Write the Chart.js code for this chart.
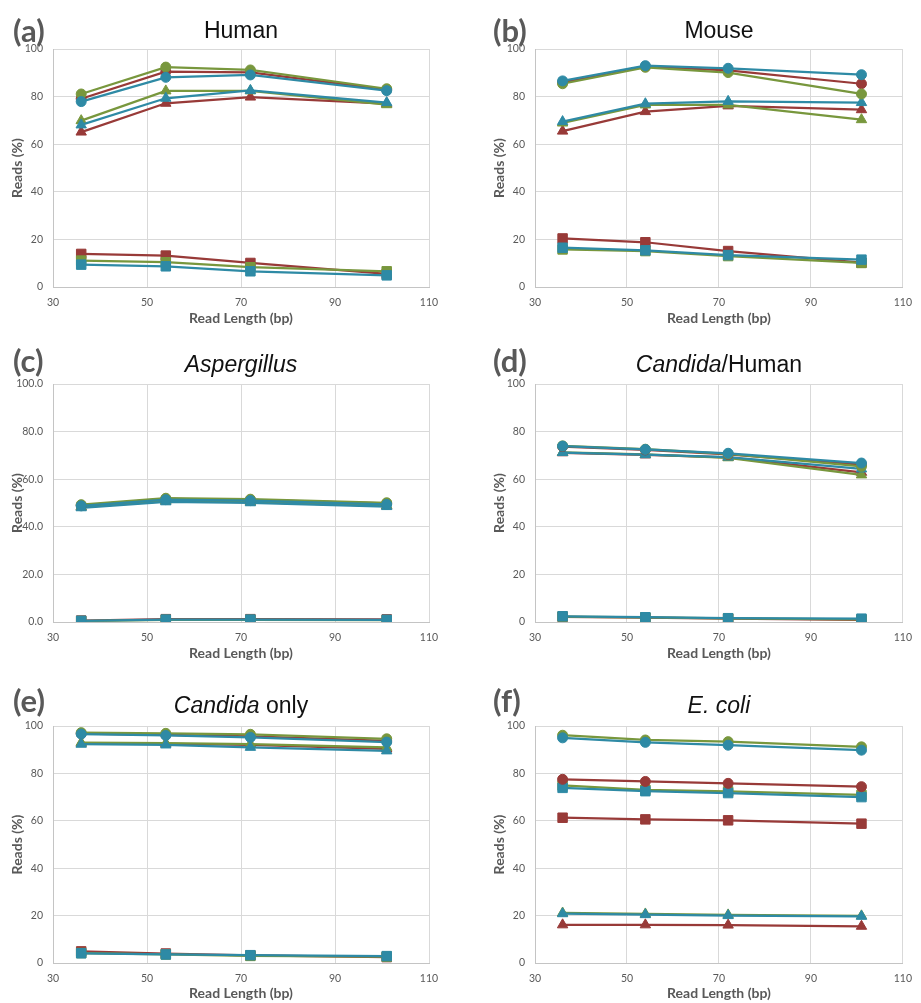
<!DOCTYPE html>
<html>
<head>
<meta charset="utf-8">
<script src="https://cdn.jsdelivr.net/npm/chart.js@4.4.0/dist/chart.umd.min.js"></script>
<style>
  body { margin: 0; background: #fff; }
  #wrap { position: relative; width: 921px; height: 1003px; overflow: hidden; }
  canvas { position: absolute; }
</style>
</head>
<body>
<div id="wrap">
  <canvas id="human" width="460" height="330" style="left:0;top:0"></canvas>
  <canvas id="mouse" width="461" height="330" style="left:460px;top:0"></canvas>
  <canvas id="asp" width="460" height="335" style="left:0;top:330px"></canvas>
  <canvas id="candHuman" width="461" height="335" style="left:460px;top:330px"></canvas>
  <canvas id="candOnly" width="460" height="338" style="left:0;top:665px"></canvas>
  <canvas id="ecoli" width="461" height="338" style="left:460px;top:665px"></canvas>
</div>
<script>
const readLengths = [36, 54, 72, 101];
const xTicks = [30, 50, 70, 90, 110];
const yTicks = [0, 20, 40, 60, 80, 100];

// (a) Human
const humanRedCircle = [79.1, 90.5, 90.2, 82.9];
const humanGreenCircle = [81.1, 92.4, 91.2, 83.3];
const humanBlueCircle = [77.9, 88.1, 89.1, 82.5];
const humanRedTriangle = [65.1, 77.2, 79.8, 77.0];
const humanGreenTriangle = [69.9, 82.4, 82.4, 76.6];
const humanBlueTriangle = [68.1, 79.3, 82.6, 77.5];
const humanRedSquare = [13.9, 13.2, 10.1, 5.5];
const humanGreenSquare = [11.1, 10.4, 8.3, 6.6];
const humanBlueSquare = [9.4, 8.7, 6.6, 4.9];

// (b) Mouse
const mouseRedCircle = [86.0, 92.6, 91.0, 85.4];
const mouseGreenCircle = [85.4, 92.3, 90.1, 81.1];
const mouseBlueCircle = [86.6, 93.0, 91.9, 89.2];
const mouseRedTriangle = [65.5, 73.7, 76.1, 74.5];
const mouseGreenTriangle = [68.9, 76.5, 76.5, 70.3];
const mouseBlueTriangle = [69.5, 77.0, 78.0, 77.5];
const mouseRedSquare = [20.4, 18.8, 15.1, 10.2];
const mouseGreenSquare = [15.8, 15.1, 13.0, 10.1];
const mouseBlueSquare = [16.5, 15.4, 13.4, 11.5];

// (c) Aspergillus
const aspRedCircle = [49.0, 51.7, 51.3, 49.8];
const aspGreenCircle = [49.3, 52.0, 51.6, 50.1];
const aspBlueCircle = [48.8, 51.4, 51.0, 49.4];
const aspRedTriangle = [48.3, 50.8, 50.4, 48.8];
const aspGreenTriangle = [48.5, 51.0, 50.6, 49.0];
const aspBlueTriangle = [48.0, 50.5, 50.1, 48.5];
const aspRedSquare = [0.6, 1.2, 1.2, 1.1];
const aspGreenSquare = [0.4, 0.9, 0.9, 0.8];
const aspBlueSquare = [0.5, 1.0, 1.0, 0.9];

// (d) Candida/Human
const chRedCircle = [73.7, 72.3, 70.4, 66.1];
const chGreenCircle = [74.0, 72.6, 70.6, 65.4];
const chBlueCircle = [73.9, 72.5, 70.9, 66.8];
const chRedTriangle = [71.1, 70.2, 69.2, 62.9];
const chGreenTriangle = [71.3, 70.4, 69.0, 61.8];
const chBlueTriangle = [71.2, 70.3, 69.3, 64.3];
const chRedSquare = [2.2, 1.8, 1.4, 0.9];
const chGreenSquare = [2.3, 1.9, 1.5, 1.1];
const chBlueSquare = [2.4, 2.0, 1.6, 1.4];

// (e) Candida only
const coRedCircle = [96.8, 96.3, 95.6, 93.7];
const coGreenCircle = [97.2, 96.9, 96.5, 94.6];
const coBlueCircle = [96.6, 96.0, 95.2, 93.2];
const coRedTriangle = [92.7, 92.5, 92.0, 90.3];
const coGreenTriangle = [93.0, 92.8, 92.4, 91.0];
const coBlueTriangle = [92.3, 92.0, 91.0, 89.5];
const coRedSquare = [4.9, 4.0, 3.2, 2.5];
const coGreenSquare = [4.2, 3.6, 3.0, 2.7];
const coBlueSquare = [4.1, 3.6, 3.3, 2.9];

// (f) E. coli
const ecRedCircle = [77.5, 76.6, 75.8, 74.4];
const ecGreenCircle = [96.1, 94.1, 93.4, 91.2];
const ecBlueCircle = [95.0, 93.1, 91.9, 89.8];
const ecRedTriangle = [16.1, 16.1, 16.0, 15.5];
const ecGreenTriangle = [21.1, 20.7, 20.3, 19.9];
const ecBlueTriangle = [20.8, 20.4, 20.0, 19.7];
const ecRedSquare = [61.3, 60.6, 60.2, 58.8];
const ecGreenSquare = [74.9, 73.1, 72.4, 70.9];
const ecBlueSquare = [73.9, 72.5, 71.7, 70.0];

const RED = '#983a38';
const GREEN = '#78973d';
const BLUE = '#2e8aa5';
const GRAY = '#595959';
const radius = { circle: 5, triangle: 6, rect: 6.7 };

// panel letter and title (title may mix italic and upright parts)
const panelText = {
  id: 'panelText',
  afterDraw(chart, args, o) {
    const ctx = chart.ctx;
    ctx.save();
    ctx.textBaseline = 'alphabetic';
    ctx.textAlign = 'left';
    ctx.fillStyle = GRAY;
    ctx.font = 'bold 31px Lato';
    ctx.fillText(o.label, o.labelX, o.labelY);

    ctx.fillStyle = '#111';
    const fonts = o.title.map(p => (p.italic ? 'italic ' : '') + '23px "Liberation Sans"');
    let total = 0;
    const widths = o.title.map((p, i) => {
      ctx.font = fonts[i];
      const w = ctx.measureText(p.text).width;
      total += w;
      return w;
    });
    const area = chart.chartArea;
    let x = (area.left + area.right) / 2 - total / 2;
    o.title.forEach((p, i) => {
      ctx.font = fonts[i];
      ctx.fillText(p.text, x, o.titleY);
      x += widths[i];
    });
    ctx.restore();
  }
};

function makeSeries(values, color, shape) {
  return {
    data: values.map((v, i) => ({ x: readLengths[i], y: v })),
    borderColor: color,
    backgroundColor: color,
    pointBackgroundColor: color,
    pointBorderColor: color,
    pointBorderWidth: 1,
    pointStyle: shape,
    pointRadius: radius[shape],
    borderWidth: 2.25,
    tension: 0
  };
}

function makePanel(id, col, row, label, title, series, decimals) {
  const pad = col === 0 ? { left: 0, right: 31 } : { left: 22, right: 11 };
  const rows = [
    { top: 49, bottom: 3, xh: 40, labelY: 42, titleY: 38 },
    { top: 54, bottom: 3, xh: 40, labelY: 42, titleY: 42 },
    { top: 61, bottom: 1, xh: 39, labelY: 47, titleY: 48 }
  ];
  const r = rows[row];
  new Chart(document.getElementById(id), {
    type: 'line',
    data: { datasets: series.map(s => makeSeries(s[0], s[1], s[2])) },
    options: {
      responsive: false,
      animation: false,
      devicePixelRatio: 1,
      layout: { padding: { left: pad.left, right: pad.right, top: r.top, bottom: r.bottom } },
      plugins: {
        legend: { display: false },
        tooltip: { enabled: false },
        panelText: { label: label, labelX: col === 0 ? 13 : 33, labelY: r.labelY, title: title, titleY: r.titleY }
      },
      scales: {
        x: {
          type: 'linear',
          min: 30,
          max: 110,
          afterBuildTicks: scale => { scale.ticks = xTicks.map(v => ({ value: v })); },
          afterFit: scale => { scale.height = r.xh; },
          grid: { color: '#d9d9d9', drawTicks: false },
          border: { color: '#c4c4c4' },
          ticks: { padding: 9, color: GRAY, font: { family: 'Lato', size: 10.5 }, maxRotation: 0 },
          title: { display: true, text: 'Read Length (bp)', color: GRAY, font: { family: 'Lato', size: 14, weight: 'bold' }, padding: { top: 0, bottom: 0 } }
        },
        y: {
          min: 0,
          max: 100,
          afterBuildTicks: scale => { scale.ticks = yTicks.map(v => ({ value: v })); },
          afterFit: scale => { scale.width = 53; },
          grid: { color: '#d9d9d9', drawTicks: false },
          border: { color: '#c4c4c4' },
          ticks: { padding: 10, color: GRAY, font: { family: 'Lato', size: 10.5 }, callback: v => v.toFixed(decimals) },
          title: { display: true, text: 'Reads (%)', color: GRAY, font: { family: 'Lato', size: 14, weight: 'bold' }, padding: { top: 9, bottom: 0 } }
        }
      }
    },
    plugins: [panelText]
  });
}

makePanel('human', 0, 0, '(a)', [{ text: 'Human' }], [
  [humanBlueCircle, BLUE, 'circle'], [humanGreenCircle, GREEN, 'circle'], [humanRedCircle, RED, 'circle'],
  [humanBlueTriangle, BLUE, 'triangle'], [humanGreenTriangle, GREEN, 'triangle'], [humanRedTriangle, RED, 'triangle'],
  [humanBlueSquare, BLUE, 'rect'], [humanGreenSquare, GREEN, 'rect'], [humanRedSquare, RED, 'rect']
], 0);

makePanel('mouse', 1, 0, '(b)', [{ text: 'Mouse' }], [
  [mouseBlueCircle, BLUE, 'circle'], [mouseGreenCircle, GREEN, 'circle'], [mouseRedCircle, RED, 'circle'],
  [mouseBlueTriangle, BLUE, 'triangle'], [mouseGreenTriangle, GREEN, 'triangle'], [mouseRedTriangle, RED, 'triangle'],
  [mouseBlueSquare, BLUE, 'rect'], [mouseGreenSquare, GREEN, 'rect'], [mouseRedSquare, RED, 'rect']
], 0);

makePanel('asp', 0, 1, '(c)', [{ text: 'Aspergillus', italic: true }], [
  [aspBlueCircle, BLUE, 'circle'], [aspGreenCircle, GREEN, 'circle'], [aspRedCircle, RED, 'circle'],
  [aspBlueTriangle, BLUE, 'triangle'], [aspGreenTriangle, GREEN, 'triangle'], [aspRedTriangle, RED, 'triangle'],
  [aspBlueSquare, BLUE, 'rect'], [aspGreenSquare, GREEN, 'rect'], [aspRedSquare, RED, 'rect']
], 1);

makePanel('candHuman', 1, 1, '(d)', [{ text: 'Candida', italic: true }, { text: '/Human' }], [
  [chBlueCircle, BLUE, 'circle'], [chGreenCircle, GREEN, 'circle'], [chRedCircle, RED, 'circle'],
  [chBlueTriangle, BLUE, 'triangle'], [chGreenTriangle, GREEN, 'triangle'], [chRedTriangle, RED, 'triangle'],
  [chBlueSquare, BLUE, 'rect'], [chGreenSquare, GREEN, 'rect'], [chRedSquare, RED, 'rect']
], 0);

makePanel('candOnly', 0, 2, '(e)', [{ text: 'Candida', italic: true }, { text: ' only' }], [
  [coBlueCircle, BLUE, 'circle'], [coGreenCircle, GREEN, 'circle'], [coRedCircle, RED, 'circle'],
  [coBlueTriangle, BLUE, 'triangle'], [coGreenTriangle, GREEN, 'triangle'], [coRedTriangle, RED, 'triangle'],
  [coBlueSquare, BLUE, 'rect'], [coGreenSquare, GREEN, 'rect'], [coRedSquare, RED, 'rect']
], 0);

makePanel('ecoli', 1, 2, '(f)', [{ text: 'E. coli', italic: true }], [
  [ecBlueCircle, BLUE, 'circle'], [ecGreenCircle, GREEN, 'circle'], [ecRedCircle, RED, 'circle'],
  [ecBlueTriangle, BLUE, 'triangle'], [ecGreenTriangle, GREEN, 'triangle'], [ecRedTriangle, RED, 'triangle'],
  [ecBlueSquare, BLUE, 'rect'], [ecGreenSquare, GREEN, 'rect'], [ecRedSquare, RED, 'rect']
], 0);
</script>
</body>
</html>
